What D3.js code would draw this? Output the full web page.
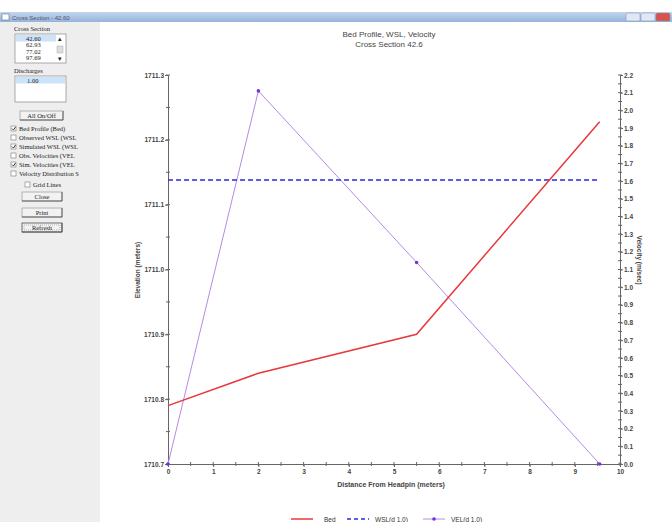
<!DOCTYPE html>
<html>
<head>
<meta charset="utf-8">
<script src="https://cdn.jsdelivr.net/npm/d3@7"></script>
<style>
  html, body { margin: 0; padding: 0; background: #fff; }
  svg { display: block; font-family: "Liberation Sans", Arial, sans-serif; }
  .panel text { font-family: "Liberation Serif", "Times New Roman", serif; font-size: 6.5px; fill: #222; }
</style>
</head>
<body>
<svg id="chart" width="672" height="522"></svg>
<script>
// ---- data ----
const bedX = [0, 2.0, 5.5, 9.55];
const bedElev = [1710.79, 1710.84, 1710.90, 1711.228];
const wslX = [0, 9.55];
const wslElev = [1711.138, 1711.138];
const velX = [0, 2.0, 5.5, 9.55];
const velVal = [0.0, 2.11, 1.14, 0.0];
const xTicks = [0, 1, 2, 3, 4, 5, 6, 7, 8, 9, 10];
const elevTicks = [1710.7, 1710.8, 1710.9, 1711.0, 1711.1, 1711.2, 1711.3];
const velTicks = d3.range(0, 23).map(i => i / 10);
const crossSections = ["42.60", "62.93", "77.02", "97.69"];
const discharges = ["1.00"];
const plotOptions = [
  ["Bed Profile (Bed)", true],
  ["Observed WSL (WSL", false],
  ["Simulated WSL (WSL", true],
  ["Obs. Velocities (VEL", false],
  ["Sim. Velocities (VEL", true],
  ["Velocity Distribution S", false]
];
const legendItems = ["Bed", "WSL(d  1.0)", "VEL(d  1.0)"];

const svg = d3.select("#chart");

// ---- window frame ----
const defs = svg.append("defs");
const grad = defs.append("linearGradient").attr("id", "tb").attr("x1", 0).attr("x2", 0).attr("y1", 0).attr("y2", 1);
grad.append("stop").attr("offset", "0%").attr("stop-color", "#c2d5ee");
grad.append("stop").attr("offset", "100%").attr("stop-color", "#97b3db");
svg.append("rect").attr("x", 0).attr("y", 12).attr("width", 672).attr("height", 10).attr("fill", "url(#tb)");
svg.append("rect").attr("x", 2).attr("y", 14).attr("width", 7).attr("height", 6).attr("fill", "#fff").attr("stroke", "#557").attr("stroke-width", 0.5);
svg.append("text").attr("x", 12).attr("y", 20).attr("font-size", 6).attr("fill", "#556").text("Cross Section  -  42.60");
[[626, "#dfe8f4"], [641, "#dfe8f4"], [656, "#d9534a"]].forEach(([bx, c]) => {
  svg.append("rect").attr("x", bx).attr("y", 13).attr("width", 14).attr("height", 8).attr("rx", 1.5)
    .attr("fill", c).attr("stroke", "#7890b0").attr("stroke-width", 0.5);
});

// ---- left control panel ----
const panel = svg.append("g").attr("class", "panel");
panel.append("rect").attr("x", 0).attr("y", 22).attr("width", 100).attr("height", 500).attr("fill", "#eeeeee");
panel.append("text").attr("x", 14).attr("y", 31).text("Cross Section");
panel.append("rect").attr("x", 15).attr("y", 34).attr("width", 51).attr("height", 29).attr("fill", "#fff").attr("stroke", "#888").attr("stroke-width", 0.7);
panel.append("rect").attr("x", 16).attr("y", 35).attr("width", 40).attr("height", 6.5).attr("fill", "#cde3f7");
crossSections.forEach((c, i) => panel.append("text").attr("x", 26).attr("y", 40.5 + i * 6.5).text(c));
panel.append("text").attr("x", 58).attr("y", 41).text("▴");
panel.append("rect").attr("x", 57).attr("y", 46).attr("width", 6).attr("height", 7).attr("fill", "#ddd").attr("stroke", "#aaa").attr("stroke-width", 0.5);
panel.append("text").attr("x", 58).attr("y", 61).text("▾");
panel.append("text").attr("x", 14).attr("y", 73).text("Discharges");
panel.append("rect").attr("x", 15).attr("y", 76).attr("width", 51).attr("height", 26).attr("fill", "#fff").attr("stroke", "#888").attr("stroke-width", 0.7);
panel.append("rect").attr("x", 16).attr("y", 77).attr("width", 49).attr("height", 6.5).attr("fill", "#cde3f7");
discharges.forEach((d, i) => panel.append("text").attr("x", 27).attr("y", 82.5 + i * 6.5).text(d));

function button(x, y, w, label, focused) {
  panel.append("rect").attr("x", x).attr("y", y).attr("width", w).attr("height", 9).attr("fill", "#f2f2f2")
    .attr("stroke", focused ? "#333" : "#999").attr("stroke-width", 0.7);
  panel.append("line").attr("x1", x + w).attr("x2", x + w).attr("y1", y).attr("y2", y + 9).attr("stroke", "#444").attr("stroke-width", 0.8);
  panel.append("line").attr("x1", x).attr("x2", x + w).attr("y1", y + 9).attr("y2", y + 9).attr("stroke", "#444").attr("stroke-width", 0.8);
  panel.append("text").attr("x", x + w / 2).attr("y", y + 6.5).attr("text-anchor", "middle").text(label);
}
button(20, 111, 43, "All On/Off", false);
plotOptions.forEach(([label, on], i) => {
  const y = 126 + i * 9;
  panel.append("rect").attr("x", 11).attr("y", y).attr("width", 5).attr("height", 5).attr("fill", "#fff").attr("stroke", "#777").attr("stroke-width", 0.6);
  if (on) panel.append("path").attr("d", `M12,${y + 2.5} L13.5,${y + 4} L15.5,${y + 1}`).attr("fill", "none").attr("stroke", "#222").attr("stroke-width", 0.9);
  panel.append("text").attr("x", 19).attr("y", y + 4.8).text(label);
});
panel.append("rect").attr("x", 25).attr("y", 182).attr("width", 5).attr("height", 5).attr("fill", "#fff").attr("stroke", "#777").attr("stroke-width", 0.6);
panel.append("text").attr("x", 33).attr("y", 186.8).text("Grid Lines");
button(22, 192, 40, "Close", false);
button(22, 208, 40, "Print", false);
button(22, 223, 40, "Refresh", true);
panel.append("rect").attr("x", 24).attr("y", 225).attr("width", 36).attr("height", 5).attr("fill", "none").attr("stroke", "#555").attr("stroke-width", 0.4).attr("stroke-dasharray", "1,1");

// ---- chart ----
const x = d3.scaleLinear().domain([0, 10]).range([168, 620]);
const yL = d3.scaleLinear().domain([1710.7, 1711.3]).range([464, 75]);
const yR = d3.scaleLinear().domain([0, 2.2]).range([464, 75]);
const axisColor = "#666";

svg.append("text").attr("x", 389).attr("y", 37).attr("text-anchor", "middle").attr("font-size", 8).attr("fill", "#444").text("Bed Profile, WSL, Velocity");
svg.append("text").attr("x", 389).attr("y", 47).attr("text-anchor", "middle").attr("font-size", 8).attr("fill", "#444").text("Cross Section    42.6");

function styleAxis(g) {
  g.select(".domain").attr("stroke", axisColor);
  g.selectAll(".tick line").attr("stroke", axisColor);
  g.selectAll(".tick text").attr("font-size", 6.5).attr("font-weight", "bold").attr("fill", "#444").attr("font-family", "Liberation Sans, Arial, sans-serif");
}

// minor ticks (crossing the axis line)
const minorElev = d3.range(0, 13).map(i => 1710.7 + i * 0.05);
const minorVel = d3.range(0, 45).map(i => i * 0.05);
const minorX = d3.range(0, 21).map(i => i * 0.5);

svg.append("g").selectAll("line").data(minorElev).join("line")
  .attr("x1", 166).attr("x2", 170).attr("y1", d => yL(d)).attr("y2", d => yL(d)).attr("stroke", axisColor);
svg.append("g").selectAll("line").data(minorVel).join("line")
  .attr("x1", 618).attr("x2", 622).attr("y1", d => yR(d)).attr("y2", d => yR(d)).attr("stroke", axisColor);
svg.append("g").selectAll("line").data(minorX).join("line")
  .attr("y1", 462).attr("y2", 466).attr("x1", d => x(d)).attr("x2", d => x(d)).attr("stroke", axisColor);

svg.append("g").attr("transform", "translate(168,0)")
  .call(d3.axisLeft(yL).tickValues(elevTicks).tickFormat(d3.format(".1f")).tickSize(3).tickPadding(1))
  .call(styleAxis);
svg.append("g").attr("transform", "translate(620,0)")
  .call(d3.axisRight(yR).tickValues(velTicks).tickFormat(d3.format(".1f")).tickSize(3).tickPadding(1))
  .call(styleAxis);
svg.append("g").attr("transform", "translate(0,464)")
  .call(d3.axisBottom(x).tickValues(xTicks).tickFormat(d3.format("d")).tickSize(3).tickPadding(2))
  .call(styleAxis);

svg.append("text").attr("transform", "translate(140,270) rotate(-90)").attr("text-anchor", "middle")
  .attr("font-size", 6.5).attr("font-weight", "bold").attr("fill", "#444").text("Elevation (meters)");
svg.append("text").attr("transform", "translate(637,260) rotate(90)").attr("text-anchor", "middle")
  .attr("font-size", 6.5).attr("font-weight", "bold").attr("fill", "#444").text("Velocity (m/sec)");
svg.append("text").attr("x", 391).attr("y", 487).attr("text-anchor", "middle")
  .attr("font-size", 7).attr("font-weight", "bold").attr("fill", "#444").text("Distance From Headpin (meters)");

// series
const bed = bedX.map((d, i) => [d, bedElev[i]]);
const wsl = wslX.map((d, i) => [d, wslElev[i]]);
const vel = velX.map((d, i) => [d, velVal[i]]);

svg.append("path").datum(vel).attr("fill", "none").attr("stroke", "#b48ae6").attr("stroke-width", 1)
  .attr("d", d3.line().x(d => x(d[0])).y(d => yR(d[1])));
svg.append("g").selectAll("circle").data(vel).join("circle")
  .attr("cx", d => x(d[0])).attr("cy", d => yR(d[1])).attr("r", 1.8).attr("fill", "#7a2ee0");
svg.append("path").datum(wsl).attr("fill", "none").attr("stroke", "#2b2bdd").attr("stroke-width", 1.5)
  .attr("stroke-dasharray", "5,3")
  .attr("d", d3.line().x(d => x(d[0])).y(d => yL(d[1])));
svg.append("path").datum(bed).attr("fill", "none").attr("stroke", "#e8383a").attr("stroke-width", 1.5)
  .attr("d", d3.line().x(d => x(d[0])).y(d => yL(d[1])));

// legend
const lg = svg.append("g").attr("font-size", 6.5).attr("fill", "#333");
lg.append("line").attr("x1", 291).attr("x2", 313).attr("y1", 519).attr("y2", 519).attr("stroke", "#e8383a").attr("stroke-width", 1.5);
lg.append("text").attr("x", 324).attr("y", 521.5).text(legendItems[0]);
lg.append("line").attr("x1", 347).attr("x2", 369).attr("y1", 519).attr("y2", 519).attr("stroke", "#2b2bdd").attr("stroke-width", 1.5).attr("stroke-dasharray", "4,3");
lg.append("text").attr("x", 375).attr("y", 521.5).text(legendItems[1]);
lg.append("line").attr("x1", 423).attr("x2", 445).attr("y1", 519).attr("y2", 519).attr("stroke", "#b48ae6").attr("stroke-width", 1);
lg.append("circle").attr("cx", 434).attr("cy", 519).attr("r", 1.8).attr("fill", "#7a2ee0");
lg.append("text").attr("x", 451).attr("y", 521.5).text(legendItems[2]);
</script>
</body>
</html>
